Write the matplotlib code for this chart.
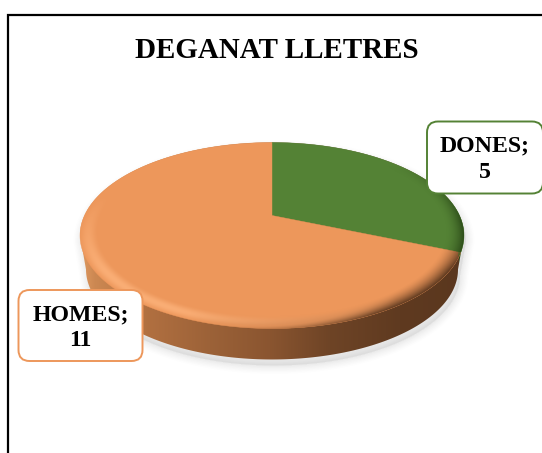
import numpy as np
import matplotlib
matplotlib.use("Agg")
import matplotlib.pyplot as plt
from matplotlib.colors import to_rgb
from matplotlib.patches import FancyBboxPatch, Polygon

# Data
categories = ["DONES", "HOMES"]
values = [5, 11]
title = "DEGANAT LLETRES"
face_colors = ["#548235", "#ED975B"]
edge_dark = ["#2B4A18", "#5F3A20"]

W, H = 542, 453
CX, CY = 272.0, 215.5      # apex of the pie in pixels
A, B, K = 88.7, 187.5, 0.215   # perspective projection of unit disc


def project(x, y):
    d = 1 + K * y
    return CX + B * x / d, CY - A * y / d


def unproject(px, py):
    Y = CY - py
    X = px - CX
    y = Y / (A - K * Y)
    x = X * (1 + K * y) / B
    return x, y


fig = plt.figure(figsize=(W / 100, H / 100), dpi=100, facecolor="white")
ax = fig.add_axes([0, 0, 1, 1])

# Angles come from the library's pie layout
wedges, _ = ax.pie(values, startangle=90, counterclock=False, colors=face_colors)
angles = [(w.theta1, w.theta2) for w in wedges]
for w in wedges:
    w.remove()
ax.set_aspect("auto")
ax.set_xlim(0, W)
ax.set_ylim(H, 0)
ax.axis("off")

# outline of disc / hull with the extruded side (lower rim is a smaller ellipse)
t0 = np.arcsin(-K)
t_top = np.linspace(t0, np.pi - t0, 300)
t_bot = np.linspace(np.pi - t0, 2 * np.pi + t0, 300)
tx, ty = project(np.cos(t_top), np.sin(t_top))
bx, by = project(np.cos(t_bot), np.sin(t_bot))
low_x = CX + (bx - CX) * 186 / 192
low_y = 269 + (by - 235) * 90 / 93
hull = np.vstack([np.c_[tx, ty], np.c_[low_x, low_y]])

# soft shadow
sh = hull + np.array([2.0, 6.0])
for lw, al in zip(np.arange(12, 0, -2.0), [0.025, 0.03, 0.035, 0.04, 0.05, 0.06]):
    ax.add_patch(Polygon(sh, closed=True, fc="#b4b4b4", ec="#b4b4b4", lw=lw, alpha=al, zorder=1))

# side wall with a horizontal gradient
gx = np.arange(W) + 0.5
stops_x = [78, 95, 150, 210, 270, 330, 400, 470]
stops_c = ["#E39C62", "#CC8852", "#B06F40", "#9C6238", "#8A5530", "#6E4426", "#5F3A20", "#5A371E"]
side_rgb = np.array([np.interp(gx, stops_x, [to_rgb(c)[i] for c in stops_c]) for i in range(3)]).T
side_img = np.repeat(side_rgb[None, :, :], H, axis=0)
py_all = (np.arange(H) + 0.5)
XX, YY = np.meshgrid(gx, py_all)
green_side = (XX > 458 + (YY - 252) * 0.14) & (YY < 274)
side_img[green_side] = to_rgb(edge_dark[0])
im = ax.imshow(side_img, extent=(0, W, H, 0), origin="upper", zorder=2, interpolation="bilinear", aspect="auto")
im.set_clip_path(Polygon(hull, closed=True, transform=ax.transData))

# top faces
for (t1, t2), col in zip(angles, face_colors):
    th = np.radians(np.linspace(t1, t2, 200))
    px, py = project(np.r_[0, np.cos(th)], np.r_[0, np.sin(th)])
    ax.add_patch(Polygon(np.c_[px, py], closed=True, fc=col, ec=col, lw=0.3, zorder=4))

# bevel on the rim of the disc
ux, uy = unproject(XX, YY)
r = np.hypot(ux, uy)
band = 0.095
u = 1 - np.clip((1 - r) / band, 0, 1)
weight = np.clip(0.3 - uy * 1.3, 0, 1)
in_green = (ux > 0) & (uy > -0.383 * np.hypot(ux, uy))

hl_amt = np.clip((0.55 - ux) / 1.0, 0, 1)
dk_amt = np.clip((ux + 0.35) / 0.8, 0.0, 1)
bevel = np.zeros((H, W, 4))
highlight = np.array(to_rgb("#FBB078"))
alpha_h = weight * hl_amt * np.sin(np.pi * np.clip(u * 0.9, 0, 1)) ** 2 * 0.9
alpha_d = weight * dk_amt * np.clip(u, 0, 1) ** 1.6
rgb = np.empty((H, W, 3))
rgb[:] = highlight
mix = (alpha_d / np.maximum(alpha_d + alpha_h, 1e-6))[..., None]
rgb = rgb * (1 - mix) + side_img * mix
rgb[in_green] = to_rgb(edge_dark[0])
alpha = np.maximum(alpha_d, alpha_h)
alpha[in_green] = (np.clip(u, 0, 1) ** 2 * np.clip(0.9 - uy * 1.4, 0, 1) * 0.95)[in_green]
alpha[r > 1.02] = 0
bevel[..., :3] = rgb
bevel[..., 3] = alpha
im2 = ax.imshow(bevel, extent=(0, W, H, 0), origin="upper", zorder=5, interpolation="bilinear", aspect="auto")
ax.set_xlim(0, W)
ax.set_ylim(H, 0)
im2.set_clip_path(Polygon(np.r_[np.c_[tx, ty], np.c_[bx, by]], closed=True, transform=ax.transData))

# frame
ax.plot([8, 8, W], [H, 14.5, 14.5], color="black", lw=1.6, solid_joinstyle="miter", zorder=6, clip_on=False)

SERIF = ["Liberation Serif", "DejaVu Serif"]
ax.text(277, 50, title, family=SERIF, weight="bold", fontsize=20.9, ha="center", va="center", color="black", zorder=10)

# labels
boxes = {"DONES": (427, 121.5, 116, 72, 485), "HOMES": (18.5, 290, 124, 71, 80.5)}
for cat, val, col in zip(categories, values, face_colors):
    x, y, w, h, tc = boxes[cat]
    ax.add_patch(FancyBboxPatch((x + 11, y + 11), w - 22, h - 22,
                                boxstyle="round,pad=11,rounding_size=11",
                                fc="white", ec=col, lw=1.4, zorder=8, clip_on=True))
    ax.text(tc, y + 24.5, f"{cat};", family=SERIF, weight="bold", fontsize=17.2, ha="center", va="center", zorder=10)
    ax.text(tc, y + 50.5, str(val), family=SERIF, weight="bold", fontsize=17.2, ha="center", va="center", zorder=10)

fig.savefig("out.png", dpi=100, facecolor="white")
